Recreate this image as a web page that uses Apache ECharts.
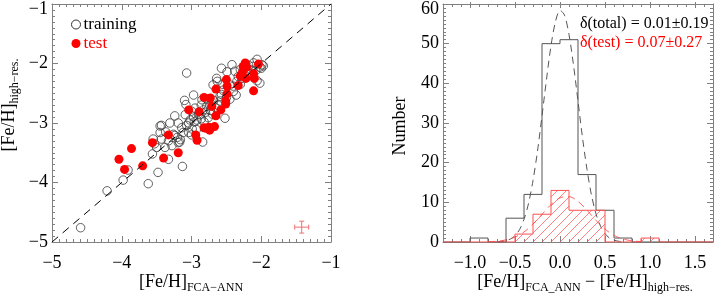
<!DOCTYPE html>
<html><head><meta charset="utf-8">
<script src="https://cdn.jsdelivr.net/npm/echarts@6/dist/echarts.min.js"></script>
<style>html,body{margin:0;padding:0;background:#fff}#c{width:718px;height:294px}</style>
</head><body><div id="c"></div>
<script>
// ---------- Left panel data ----------
const scatterTicks = [-5, -4, -3, -2, -1];
const trainingPoints = [
[-4.59,-4.76],[-4.21,-4.14],[-3.98,-3.96],[-3.91,-3.79],[-3.62,-4.02],[-3.48,-3.83],[-3.33,-3.61],[-3.56,-3.52],
[-3.50,-3.41],[-3.38,-3.41],[-3.55,-3.27],[-3.43,-3.27],[-3.28,-3.38],[-3.45,-3.05],[-3.33,-3.30],[-3.19,-3.33],
[-3.45,-3.16],[-3.26,-3.19],[-3.12,-3.16],[-2.93,-3.11],[-3.07,-3.04],[-3.14,-3.08],[-3.43,-3.04],[-3.31,-3.00],
[-3.19,-3.00],[-3.24,-2.88],[-3.13,-3.73],[-3.07,-2.16],[-3.00,-2.80],[-2.97,-2.90],[-2.88,-2.86],[-2.76,-2.91],
[-2.73,-2.79],[-3.08,-2.69],[-3.10,-2.62],[-2.97,-2.53],[-2.85,-2.61],[-2.59,-2.63],[-2.57,-2.52],[-2.57,-2.08],
[-2.42,-2.02],[-2.11,-1.99],[-1.99,-2.02],[-2.02,-2.33],[-2.19,-2.19],[-2.38,-2.13],[-2.35,-2.30],[-2.45,-2.36],
[-2.64,-2.25],[-2.69,-2.36],[-2.40,-2.47],[-2.59,-2.55],[-2.52,-2.92],[-2.84,-3.32],[-2.49,-2.14],[-2.06,-1.93],
[-2.02,-2.06],[-1.97,-2.04],[-2.06,-2.29],[-2.36,-2.53],[-2.50,-2.57],[-2.62,-2.70],[-2.80,-2.82],[-2.78,-2.72],
[-2.70,-2.85],[-2.65,-2.75],[-2.92,-2.95],[-2.99,-3.10],[-3.04,-3.16],[-2.96,-2.98],[-2.86,-2.93],[-2.86,-2.70],
[-2.55,-2.45],[-2.45,-2.60],[-2.30,-2.35],[-2.28,-2.25],[-2.25,-2.18],[-2.15,-2.10],[-2.08,-2.12],[-2.12,-2.05],
[-2.18,-2.03],[-2.30,-2.10],[-2.40,-2.38],[-3.37,-3.15],[-3.20,-3.24],[-3.09,-2.86],[-3.02,-2.95],[-3.16,-3.28],
[-2.63,-2.30],[-3.53,-3.35],[-3.00,-3.20],[-2.78,-2.60],[-2.95,-2.75],[-3.17,-3.32],[-3.24,-3.21],[-2.90,-2.85],
[-2.83,-2.78],[-2.68,-2.62],[-2.72,-2.68],[-2.55,-2.35],[-2.33,-2.22],[-2.22,-2.12],[-2.00,-2.08],[-3.04,-3.00],
[-2.82,-2.98]
];
const testPoints = [
[-4.04,-3.61],[-3.96,-3.78],[-3.86,-3.43],[-3.70,-3.72],[-3.56,-3.33],[-3.40,-3.59],[-3.33,-3.20],[-3.19,-3.50],
[-3.04,-2.78],[-2.94,-3.20],[-2.92,-3.29],[-2.89,-2.81],[-2.82,-2.57],[-2.82,-3.08],[-2.75,-3.07],[-2.73,-2.58],
[-2.71,-2.72],[-2.74,-3.12],[-2.67,-3.06],[-2.65,-2.88],[-2.65,-2.43],[-2.58,-2.78],[-2.50,-2.27],[-2.49,-2.38],
[-2.49,-2.51],[-2.51,-2.63],[-2.51,-2.68],[-2.33,-2.37],[-2.30,-2.21],[-2.27,-2.15],[-2.26,-2.05],[-2.23,-1.99],
[-2.21,-2.06],[-2.22,-2.25],[-2.11,-2.17],[-2.10,-2.25],[-2.04,-2.01],[-2.11,-2.46],[-2.79,-3.09]
];
const oneToOne = [[-5, -5], [-1, -1]];
const errCenter = [-1.42, -4.75];
const errHalf = [0.1, 0.1];

// ---------- Right panel data ----------
const totalEdges = [-1.0, -0.8, -0.6, -0.4, -0.2, 0.0, 0.2, 0.4, 0.6, 0.8];
const totalCounts = [1, 0, 6, 12, 50, 51, 17, 8, 1];
const testEdges = [-0.5, -0.3, -0.1, 0.1, 0.3, 0.5, 0.7, 0.9, 1.1];
const testCounts = [2, 7, 13, 8, 8, 0, 0, 1];
const gaussTotalX = [-0.7,-0.65,-0.6,-0.55,-0.5,-0.45,-0.4,-0.35,-0.3,-0.25,-0.2,-0.15,-0.1,-0.05,0,0.05,0.1,0.15,0.2,0.25,0.3,0.35,0.4,0.45,0.5,0.55,0.6,0.65,0.7];
const gaussTotalY = [0.05,0.14,0.34,0.76,1.6,3.1,5.7,9.7,15.5,22.9,31.8,41.0,49.5,55.6,58.4,57.2,52.3,44.6,35.5,26.3,18.3,11.8,7.1,4.0,2.1,1.0,0.47,0.2,0.07];
const gaussTestX = [-0.8,-0.7,-0.6,-0.5,-0.4,-0.3,-0.2,-0.1,0,0.1,0.2,0.3,0.4,0.5,0.6,0.7,0.8,0.9];
const gaussTestY = [0.06,0.2,0.53,1.24,2.53,4.5,6.97,9.43,11.12,11.43,10.24,8.0,5.45,3.24,1.67,0.76,0.3,0.1];
const histXRange = [-1.3, 1.7];
const histXLabels = [-1.0, -0.5, 0.0, 0.5, 1.0, 1.5];
const histYTicks = [0, 10, 20, 30, 40, 50, 60];
const statTotal = 'δ(total) = 0.01±0.19';
const statTest = 'δ(test) = 0.07±0.27';

// ---------- helpers ----------
const FONT = '"Liberation Serif", "DejaVu Serif", serif';
const AX = '#808080';
const RED = '#ff0000';
const HRED = 'rgba(255,70,70,0.85)';
const minus = s => String(s).replace('-', '\u2212');

function stepData(edges, counts) {
  const d = [[histXRange[0], 0]];
  for (let i = 0; i < counts.length; i++) d.push([edges[i], counts[i]]);
  d.push([edges[edges.length - 1], 0]);
  d.push([histXRange[1], 0]);
  return d;
}
const hatchBins = [];
for (let i = 0; i < testCounts.length; i++) if (testCounts[i] > 0) hatchBins.push([testEdges[i], testEdges[i + 1], testCounts[i]]);

const chart = echarts.init(document.getElementById('c'), null, {renderer: 'canvas'});

const baseAxisLine = {show: true, onZero: false, lineStyle: {color: AX, width: 1}};
const noLine = {show: false, onZero: false};
const majorTick = len => ({show: true, inside: true, length: len, lineStyle: {color: AX, width: 1}});
const minorTick = (n) => ({show: true, splitNumber: n, length: 3, lineStyle: {color: AX, width: 1}});
const labelStyle = {color: '#000', fontFamily: FONT, fontSize: 18};

const option = {
  animation: false,
  backgroundColor: '#fff',
  grid: [
    {left: 52, top: 2, width: 279, height: 240},
    {left: 443, top: 2, width: 270, height: 240},
    {left: 443, top: 2, width: 270, height: 240}
  ],
  xAxis: [
    {gridIndex: 0, type: 'value', position: 'bottom', min: -5, max: -1, interval: 1,
     axisLine: baseAxisLine, axisTick: majorTick(6), minorTick: minorTick(10), splitLine: {show: false},
     axisLabel: Object.assign({margin: 12, formatter: v => minus(v)}, labelStyle)},
    {gridIndex: 0, type: 'value', position: 'top', min: -5, max: -1, interval: 1,
     axisLine: baseAxisLine, axisTick: majorTick(6), minorTick: minorTick(10), splitLine: {show: false},
     axisLabel: {show: false}},
    // right panel: fine ticks every 0.1
    {gridIndex: 1, type: 'value', position: 'bottom', min: histXRange[0], max: histXRange[1], interval: 0.1,
     axisLine: baseAxisLine, axisTick: majorTick(3), splitLine: {show: false},
     axisLabel: Object.assign({margin: 12, customValues: histXLabels, formatter: v => minus(v.toFixed(1))}, labelStyle)},
    {gridIndex: 1, type: 'value', position: 'top', min: histXRange[0], max: histXRange[1], interval: 0.1,
     axisLine: baseAxisLine, axisTick: majorTick(3), splitLine: {show: false}, axisLabel: {show: false}},
    // right panel: major ticks overlay
    {gridIndex: 2, type: 'value', position: 'bottom', min: histXRange[0], max: histXRange[1],
     axisLine: noLine, axisTick: Object.assign(majorTick(6), {customValues: histXLabels}), splitLine: {show: false}, axisLabel: {show: false}},
    {gridIndex: 2, type: 'value', position: 'top', min: histXRange[0], max: histXRange[1],
     axisLine: noLine, axisTick: Object.assign(majorTick(6), {customValues: histXLabels}), splitLine: {show: false}, axisLabel: {show: false}}
  ],
  yAxis: [
    {gridIndex: 0, type: 'value', position: 'left', min: -5, max: -1, interval: 1,
     axisLine: baseAxisLine, axisTick: majorTick(6), minorTick: minorTick(10), splitLine: {show: false},
     axisLabel: Object.assign({margin: 4, formatter: v => v === -1 ? '{t|' + minus(v) + '}' : minus(v),
       rich: {t: {fontFamily: FONT, fontSize: 18, padding: [10, 0, 0, 0]}}}, labelStyle)},
    {gridIndex: 0, type: 'value', position: 'right', min: -5, max: -1, interval: 1,
     axisLine: baseAxisLine, axisTick: majorTick(6), minorTick: minorTick(10), splitLine: {show: false}, axisLabel: {show: false}},
    {gridIndex: 1, type: 'value', position: 'left', min: 0, max: 60, interval: 10,
     axisLine: baseAxisLine, axisTick: majorTick(6), minorTick: minorTick(10), splitLine: {show: false},
     axisLabel: Object.assign({margin: 4, formatter: v => v === 60 ? '{t|' + v + '}' : String(v),
       rich: {t: {fontFamily: FONT, fontSize: 18, padding: [10, 0, 0, 0]}}}, labelStyle)},
    {gridIndex: 1, type: 'value', position: 'right', min: 0, max: 60, interval: 10,
     axisLine: baseAxisLine, axisTick: majorTick(6), minorTick: minorTick(10), splitLine: {show: false}, axisLabel: {show: false}},
    {gridIndex: 2, type: 'value', min: 0, max: 60, show: false, axisLine: noLine}
  ],
  legend: {
    orient: 'vertical', left: 66, top: 11, itemWidth: 9, itemHeight: 9, itemGap: 2,
    selectedMode: false,
    textStyle: {fontFamily: FONT, fontSize: 17, color: '#000', lineHeight: 17, padding: [0, 0, 0, -2]},
    data: [
      {name: 'training', icon: 'circle', itemStyle: {color: 'rgba(0,0,0,0)', borderColor: '#333', borderWidth: 1}},
      {name: 'test', icon: 'circle', itemStyle: {color: RED, borderWidth: 0}, textStyle: {color: RED}}
    ]
  },
  series: [
    {type: 'line', xAxisIndex: 0, yAxisIndex: 0, data: oneToOne, showSymbol: false, silent: true,
     lineStyle: {color: '#000', width: 1, type: [8, 6]}},
    {name: 'training', type: 'scatter', xAxisIndex: 0, yAxisIndex: 0, data: trainingPoints, symbol: 'circle', symbolSize: 8.5,
     itemStyle: {color: 'rgba(0,0,0,0)', borderColor: '#3a3a3a', borderWidth: 0.8, opacity: 1}},
    {name: 'test', type: 'scatter', xAxisIndex: 0, yAxisIndex: 0, data: testPoints, symbol: 'circle', symbolSize: 9,
     itemStyle: {color: RED, opacity: 1}},
    {type: 'custom', xAxisIndex: 0, yAxisIndex: 0, data: [[errCenter[0], errCenter[1], errHalf[0], errHalf[1]]],
     renderItem: (params, api) => {
       const cx = api.value(0), cy = api.value(1), hx = api.value(2), hy = api.value(3);
       const l = api.coord([cx - hx, cy]), r = api.coord([cx + hx, cy]);
       const t = api.coord([cx, cy + hy]), b = api.coord([cx, cy - hy]);
       const st = {stroke: '#f07070', lineWidth: 1};
       return {type: 'group', children: [
         {type: 'line', shape: {x1: l[0], y1: l[1], x2: r[0], y2: r[1]}, style: st},
         {type: 'line', shape: {x1: t[0], y1: t[1], x2: b[0], y2: b[1]}, style: st},
         {type: 'line', shape: {x1: l[0], y1: l[1] - 2.5, x2: l[0], y2: l[1] + 2.5}, style: st},
         {type: 'line', shape: {x1: r[0], y1: r[1] - 2.5, x2: r[0], y2: r[1] + 2.5}, style: st},
         {type: 'line', shape: {x1: t[0] - 2.5, y1: t[1], x2: t[0] + 2.5, y2: t[1]}, style: st},
         {type: 'line', shape: {x1: b[0] - 2.5, y1: b[1], x2: b[0] + 2.5, y2: b[1]}, style: st}
       ]};
     }},
    // right panel
    {type: 'line', xAxisIndex: 2, yAxisIndex: 2, data: gaussTotalX.map((x, i) => [x, gaussTotalY[i]]), smooth: 0.3, showSymbol: false,
     lineStyle: {color: '#555', width: 1, type: [7, 5]}, z: 3},
    {type: 'line', xAxisIndex: 2, yAxisIndex: 2, data: stepData(totalEdges, totalCounts), step: 'end', showSymbol: false,
     lineStyle: {color: '#555', width: 1}, z: 2},
    {type: 'custom', xAxisIndex: 2, yAxisIndex: 2, data: hatchBins, z: 4,
     renderItem: (params, api) => {
       const p0 = api.coord([api.value(0), 0]), p1 = api.coord([api.value(1), api.value(2)]);
       const left = p0[0], right = p1[0], bottom = p0[1], top = p1[1], h = bottom - top;
       const ox = api.coord([0, 0])[0], sp = 9;
       const children = [];
       for (let X = ox + Math.floor((left - h - ox) / sp) * sp; X <= right; X += sp) {
         const t0 = Math.max(0, left - X), t1 = Math.min(h, right - X);
         if (t1 > t0) children.push({type: 'line', shape: {x1: X + t0, y1: bottom - t0, x2: X + t1, y2: bottom - t1},
           style: {stroke: HRED, lineWidth: 0.8}});
       }
       return {type: 'group', children};
     }},
    {type: 'line', xAxisIndex: 2, yAxisIndex: 2, data: gaussTestX.map((x, i) => [x, gaussTestY[i]]), smooth: 0.3, showSymbol: false,
     lineStyle: {color: HRED, width: 1, type: [7, 5]}, z: 5},
    {type: 'line', xAxisIndex: 2, yAxisIndex: 2, data: stepData(testEdges, testCounts), step: 'end', showSymbol: false,
     lineStyle: {color: '#ff5050', width: 1}, z: 6}
  ],
  graphic: [
    {type: 'text', x: 9, y: 105, rotation: Math.PI / 2,
     style: {text: '{m|[Fe/H]}{s|high\u2212res.}', align: 'center', verticalAlign: 'middle', fill: '#000',
       rich: {m: {fontFamily: FONT, fontSize: 18, lineHeight: 24}, s: {fontFamily: FONT, fontSize: 12, lineHeight: 12, verticalAlign: 'bottom'}}}},
    {type: 'text', x: 191, y: 282,
     style: {text: '{m|[Fe/H]}{s|FCA\u2212ANN}', align: 'center', verticalAlign: 'middle', fill: '#000',
       rich: {m: {fontFamily: FONT, fontSize: 18, lineHeight: 24}, s: {fontFamily: FONT, fontSize: 12, lineHeight: 12, verticalAlign: 'bottom'}}}},
    {type: 'text', x: 585, y: 282,
     style: {text: '{m|[Fe/H]}{s|FCA_ANN}{m| \u2212 [Fe/H]}{s|high\u2212res.}', align: 'center', verticalAlign: 'middle', fill: '#000',
       rich: {m: {fontFamily: FONT, fontSize: 18, lineHeight: 24}, s: {fontFamily: FONT, fontSize: 12, lineHeight: 12, verticalAlign: 'bottom'}}}},
    {type: 'text', x: 400, y: 126, rotation: Math.PI / 2,
     style: {text: 'Number', align: 'center', verticalAlign: 'middle', fill: '#000', font: '18px ' + FONT}},
    {type: 'text', x: 580, y: 24,
     style: {text: statTotal, align: 'left', verticalAlign: 'middle', fill: '#000', font: '16px ' + FONT}},
    {type: 'text', x: 580, y: 43,
     style: {text: statTest, align: 'left', verticalAlign: 'middle', fill: RED, font: '16px ' + FONT}}
  ]
};
chart.setOption(option);
</script>
</body></html>
